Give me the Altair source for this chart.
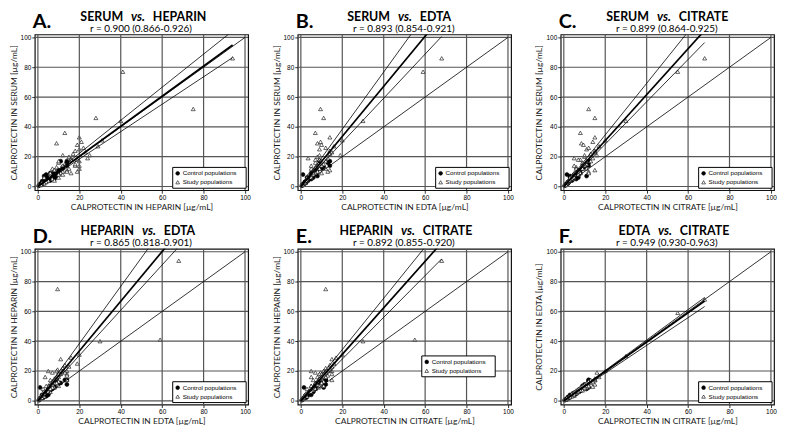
import altair as alt
import pandas as pd

# ---------------- data ----------------
group = ["Control populations"] * 34 + ["Study populations"] * 56

serum = [17, 17, 14, 7, 8, 12, 10, 8, 6, 5, 4, 3, 2, 1.5, 1, 8, 7, 9, 6, 5, 3, 2.5, 4, 11, 13, 6, 0.5, 1.2, 3.5, 5.5, 16, 7.5, 9, 2,
         77, 86, 52, 46, 44, 36, 29, 33, 31, 21, 28, 19, 11, 30, 25, 24, 22, 26, 20, 18, 15, 14, 12, 16, 13, 10,
         9, 8, 12, 7, 6, 5, 4, 3, 2, 1, 10, 14, 23, 27, 17, 9, 11, 15, 19, 8, 6, 4, 2.5, 21, 17, 12, 10, 9, 14, 18]
heparin = [11, 14, 14, 9, 9, 12, 8, 7, 5, 5, 3, 2.5, 1.5, 1, 0.8, 4, 3, 6, 8, 8, 4, 3, 6, 10, 12, 3.5, 0.4, 1.8, 2, 4.5, 14, 9, 11, 2.5,
           41, 94, 75, 28, 40, 13, 9, 20, 31, 25, 19, 16, 14, 21, 20, 18, 17, 22, 15, 16, 13, 12, 15, 10, 9, 12,
           11, 12, 7, 6, 10, 7, 5, 4, 3, 1.5, 14, 18, 23, 29, 20, 6, 8, 18, 24, 10, 3, 8, 2, 12, 10, 20, 19, 16, 20, 19]
edta = [14, 9, 14, 8, 1, 10, 7, 6, 4, 4, 3, 2, 1.5, 1, 0.6, 5, 4, 5, 6, 5, 2, 2.5, 3.5, 8, 11, 3, 0.5, 1, 2.5, 5, 13, 6, 7, 1.8,
        59, 68, 9.5, 11, 30, 7, 8, 14, 20, 19, 10, 3.5, 14, 9.5, 9, 14, 14, 12, 8, 9, 10, 8, 9, 7, 7, 8,
        7, 6, 5, 5, 5, 3, 3, 2, 1.5, 0.8, 6, 10, 15, 16, 12, 6, 6, 11, 13, 4, 3, 2.5, 2, 9, 10, 12, 13, 10, 5, 7]
citrate = [12, 12, 12, 11, 1.5, 9, 7, 6, 5, 4, 3, 2, 1.5, 1, 0.7, 5, 3, 6, 7, 6, 2.5, 2, 4, 8, 10, 3, 0.4, 1.2, 2.5, 4.5, 12, 7, 8, 2,
           55, 68, 12, 15, 30, 8, 8.5, 15, 20, 16, 9.5, 5, 15, 14, 11, 15, 13, 12, 10, 8, 11, 10, 9, 9, 6, 7,
           8, 7, 6, 4, 5, 4, 2.5, 2, 1.5, 1, 6, 9, 15, 17, 13, 5, 7, 10, 14, 5, 3, 3, 1.5, 10, 11, 11, 12, 12, 5, 7]

letters = ["A.", "B.", "C.", "D.", "E.", "F."]
left_words = ["SERUM", "SERUM", "SERUM", "HEPARIN", "HEPARIN", "EDTA"]
right_words = ["HEPARIN", "EDTA", "CITRATE", "EDTA", "CITRATE", "CITRATE"]
r_texts = ["r = 0.900 (0.866-0.926)", "r = 0.893 (0.854-0.921)", "r = 0.899 (0.864-0.925)",
           "r = 0.865 (0.818-0.901)", "r = 0.892 (0.855-0.920)", "r = 0.949 (0.930-0.963)"]
x_vars = ["heparin", "edta", "citrate", "edta", "citrate", "citrate"]
y_vars = ["serum", "serum", "serum", "heparin", "heparin", "edta"]
axis_names = {"serum": "SERUM", "heparin": "HEPARIN", "edta": "EDTA", "citrate": "CITRATE"}

# regression (thick) and confidence lines: y = intercept + slope * x
reg_slope = [1.01, 1.68, 1.54, 1.67, 1.56, 0.985]
reg_icpt = [0.0, 0.0, 0.0, 0.0, 0.0, 0.0]
upper_slope = [1.11, 1.92, 1.73, 1.92, 1.72, 1.02]
lower_slope = [0.92, 1.48, 1.42, 1.52, 1.40, 0.93]

tick_values = [0, 20, 40, 60, 80, 100]

columns = {"serum": serum, "heparin": heparin, "edta": edta, "citrate": citrate}
grp_domain = ["Control populations", "Study populations"]
grp_shapes = ["circle", "triangle-up"]
grp_fills = ["black", "white"]

# layout constants (pixels, relative to each plot area)
W, H = 215, 157
X_DOM = [-1.5, 101.5]
Y_DOM = [-2.5, 102]
LEG_W, LEG_H = 74, 21
vs_center = [104, 108, 104, 115, 111, 105]
legend_topleft = [(W - 2 - LEG_W, H - 2 - LEG_H)] * 4 + [(125, 108)] + [(W - 2 - LEG_W, H - 2 - LEG_H)]

TITLE_FONT = "Lato"
LABEL_FONT = "Liberation Sans"
GRID_COLOR = "#555555"


def panel(i):
    xs = columns[x_vars[i]]
    ys = columns[y_vars[i]]
    pts = pd.DataFrame({"x": xs, "y": ys, "grp": group})
    xmax = max(xs)

    # grid lines at the tick values first, then identity, regression and its confidence lines
    rows = []
    for v in tick_values:
        rows += [{"line": f"gv{v}", "x": v, "y": Y_DOM[0], "w": 1.2, "col": GRID_COLOR},
                 {"line": f"gv{v}", "x": v, "y": Y_DOM[1], "w": 1.2, "col": GRID_COLOR},
                 {"line": f"gh{v}", "x": X_DOM[0], "y": v, "w": 1.2, "col": GRID_COLOR},
                 {"line": f"gh{v}", "x": X_DOM[1], "y": v, "w": 1.2, "col": GRID_COLOR}]
    rows += [{"line": "zidentity", "x": 0, "y": 0, "w": 0.8, "col": "black"},
             {"line": "zidentity", "x": 100, "y": 100, "w": 0.8, "col": "black"}]
    for name, b, w in [("zreg", reg_slope[i], 1.7), ("zup", upper_slope[i], 0.8), ("zlo", lower_slope[i], 0.8)]:
        a = reg_icpt[i]
        rows.append({"line": name, "x": 0, "y": a, "w": w, "col": "black"})
        rows.append({"line": name, "x": xmax, "y": a + b * xmax, "w": w, "col": "black"})
    ldf = pd.DataFrame(rows)

    xsc = alt.Scale(domain=X_DOM, nice=False, zero=False)
    ysc = alt.Scale(domain=Y_DOM, nice=False, zero=False)
    xax = alt.Axis(title=f"CALPROTECTIN IN {axis_names[x_vars[i]]} [µg/mL]", values=tick_values)
    yax = alt.Axis(title=f"CALPROTECTIN IN {axis_names[y_vars[i]]} [µg/mL]", values=tick_values)
    X = lambda f: alt.X(f, scale=xsc, axis=xax)
    Y = lambda f: alt.Y(f, scale=ysc, axis=yax)

    points = alt.Chart(pts).mark_point(filled=True, stroke="black", strokeWidth=0.6, opacity=1, size=16).encode(
        x=X("x:Q"), y=Y("y:Q"),
        shape=alt.Shape("grp:N", scale=alt.Scale(domain=grp_domain, range=grp_shapes), legend=None),
        fill=alt.Fill("grp:N", scale=alt.Scale(domain=grp_domain, range=grp_fills), legend=None),
    )
    lines = alt.Chart(ldf).mark_line(clip=True).encode(
        x=X("x:Q"), y=Y("y:Q"),
        detail="line:N",
        color=alt.Color("col:N", scale=None),
        strokeWidth=alt.StrokeWidth("w:Q", scale=None),
    )

    def one(t=""):
        return alt.Chart(pd.DataFrame({"t": [t]}))

    def txt(t, x, y, **kw):
        return one(t).mark_text(baseline="alphabetic", color="black", **kw).encode(
            text="t:N", x=alt.value(x), y=alt.value(y))

    c = vs_center[i]
    letter = txt(letters[i], -2, -6, align="left", font=TITLE_FONT, fontSize=20, fontWeight="bold")
    tl = txt(left_words[i], c - 15, -14, align="right", font=TITLE_FONT, fontSize=12.5, fontWeight="bold")
    tv = txt("vs.", c, -14, align="center", font=TITLE_FONT, fontSize=12.5, fontWeight="bold", fontStyle="italic")
    tr = txt(right_words[i], c + 15, -14, align="left", font=TITLE_FONT, fontSize=12.5, fontWeight="bold")
    sub = txt(r_texts[i], 107, -2.5, align="center", font=TITLE_FONT, fontSize=10)

    # legend box (inside the plot, as in the figure)
    lx, ly = legend_topleft[i]
    box = one().mark_rect(fill="white", stroke="black", strokeWidth=1).encode(
        x=alt.value(lx), x2=alt.value(lx + LEG_W), y=alt.value(ly), y2=alt.value(ly + LEG_H))
    leg_layers = [box]
    for k, name in enumerate(grp_domain):
        yy = ly + 6 + k * 9
        leg_layers.append(one().mark_point(filled=True, stroke="black", strokeWidth=0.6, opacity=1, size=14).encode(
            x=alt.value(lx + 5), y=alt.value(yy), shape=alt.value(grp_shapes[k]), fill=alt.value(grp_fills[k])))
        leg_layers.append(one(name).mark_text(align="left", baseline="middle", font=LABEL_FONT, fontSize=6.3,
                                              color="black").encode(
            text="t:N", x=alt.value(lx + 10), y=alt.value(yy)))

    return alt.layer(points, lines, *leg_layers, letter, tl, tv, tr, sub).properties(width=W, height=H)


row1 = alt.hconcat(panel(0), panel(1), panel(2), spacing=20)
row2 = alt.hconcat(panel(3), panel(4), panel(5), spacing=20)
chart = alt.vconcat(row1, row2, spacing=12).properties(
    padding={"left": 0, "top": 0, "right": 2, "bottom": 2}
).configure_view(
    stroke="#111", strokeWidth=1.2
).configure_axis(
    domain=False, grid=False,
    tickColor="black", tickSize=3, tickWidth=0.8,
    labelFont=LABEL_FONT, labelFontSize=6.5, labelColor="black", labelPadding=1,
    titleFont=TITLE_FONT, titleFontSize=8.5, titleFontWeight="normal", titleColor="#1a1a1a", titlePadding=2,
)

chart.save("out.html", embed_options={"renderer": "svg", "actions": False})
